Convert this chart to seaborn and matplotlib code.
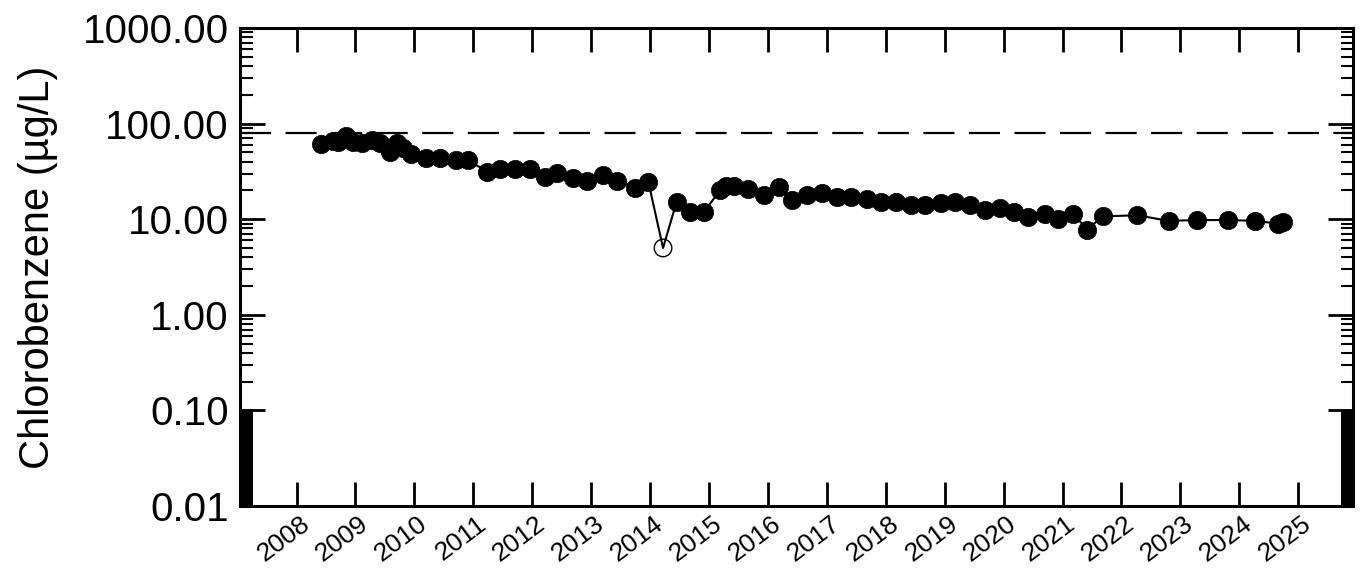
import numpy as np
import pandas as pd
import matplotlib
matplotlib.use("Agg")
import matplotlib.pyplot as plt
import seaborn as sns
from matplotlib.ticker import FixedLocator, FormatStrFormatter, NullFormatter
from matplotlib.transforms import ScaledTranslation

# ---- data ----
sample_year = [2008.41, 2008.62, 2008.70, 2008.84, 2008.96, 2009.11, 2009.28, 2009.42,
               2009.58, 2009.70, 2009.80, 2009.95, 2010.20, 2010.44, 2010.71, 2010.91,
               2011.23, 2011.45, 2011.71, 2011.96, 2012.22, 2012.42, 2012.70, 2012.93,
               2013.20, 2013.44, 2013.75, 2013.97, 2014.22, 2014.45, 2014.67, 2014.92,
               2015.19, 2015.29, 2015.42, 2015.67, 2015.94, 2016.18, 2016.41, 2016.66,
               2016.92, 2017.17, 2017.41, 2017.69, 2017.92, 2018.18, 2018.42, 2018.67,
               2018.93, 2019.18, 2019.43, 2019.69, 2019.94, 2020.17, 2020.42, 2020.71,
               2020.93, 2021.18, 2021.42, 2021.68, 2022.27, 2022.80, 2023.28, 2023.81,
               2024.27, 2024.66, 2024.74]
chlorobenzene = [60.7, 65.8, 64.0, 74.6, 64.0, 62.0, 67.0, 63.0,
                 51.0, 62.0, 55.0, 48.0, 43.4, 44.0, 41.6, 41.6,
                 31.4, 33.2, 33.2, 33.2, 27.8, 30.2, 26.8, 25.3,
                 29.0, 25.3, 21.0, 24.7, 5.0, 15.2, 12.0, 12.0,
                 20.2, 22.2, 22.2, 20.6, 17.9, 21.6, 16.0, 17.9,
                 18.7, 17.2, 17.2, 16.4, 15.0, 15.2, 14.1, 14.2,
                 14.8, 15.2, 14.1, 12.5, 13.0, 12.0, 10.6, 11.3,
                 10.0, 11.4, 7.8, 10.7, 11.0, 9.6, 9.8, 9.8,
                 9.6, 9.0, 9.3]
detected = [True] * len(sample_year)
detected[28] = False  # non-detect plotted as open circle (2014)

year_ticks = list(range(2008, 2026))
y_ticks = [0.01, 0.1, 1, 10, 100, 1000]
standard_value = 80.0
y_label = "Chlorobenzene (µg/L)"

df = pd.DataFrame({"year": sample_year, "value": chlorobenzene, "detected": detected})

# ---- style ----
sns.set_style("ticks")
plt.rcParams["font.family"] = ["Liberation Sans", "DejaVu Sans"]
for k in ["text.color", "axes.labelcolor", "xtick.color", "ytick.color", "axes.edgecolor"]:
    plt.rcParams[k] = "black"

fig = plt.figure(figsize=(13.64, 5.82), dpi=100)
W, H = 1364, 582
ax = fig.add_axes([240 / W, 1 - 506 / H, (1353 - 240) / W, (506 - 28) / H])

ax.set_yscale("log")

sns.lineplot(data=df, x="year", y="value", color="black", linewidth=1.5,
             estimator=None, sort=False, ax=ax, zorder=2)
sns.scatterplot(data=df[df["detected"]], x="year", y="value", color="black",
                s=175, edgecolor="black", linewidth=0.5, ax=ax, zorder=3)
sns.scatterplot(data=df[~df["detected"]], x="year", y="value", color="black",
                facecolor="none", edgecolor="black", s=160, linewidth=1.0,
                ax=ax, zorder=3)

ax.axhline(standard_value, color="black", linewidth=1.6, dashes=(14, 6.5), zorder=1)

ax.set_xlim(2007.04, 2025.93)
ax.set_ylim(0.01, 1000)

# y ticks
ax.yaxis.set_major_locator(FixedLocator(y_ticks))
ax.yaxis.set_major_formatter(FormatStrFormatter("%.2f"))
minor = []
for dec in [0.1, 1, 10, 100]:
    minor += [m * dec for m in range(2, 10)]
minor += list(np.arange(0.0103, 0.1, 0.0003))
ax.yaxis.set_minor_locator(FixedLocator(minor))
ax.yaxis.set_minor_formatter(NullFormatter())

ax.tick_params(axis="y", which="major", direction="in", length=18, width=2,
               left=True, right=True, labelsize=29, pad=8, colors="black")
ax.tick_params(axis="y", which="minor", direction="in", length=9, width=1.5,
               left=True, right=True, colors="black")

# x ticks
ax.xaxis.set_major_locator(FixedLocator(year_ticks))
ax.set_xticklabels([str(y) for y in year_ticks])
ax.xaxis.set_minor_locator(FixedLocator([]))
ax.tick_params(axis="x", which="major", direction="in", length=17, width=2,
               top=True, bottom=True, labelsize=19, pad=4, colors="black")
offset = ScaledTranslation(3 / 100, 0, fig.dpi_scale_trans)
for lab in ax.get_xticklabels():
    lab.set_rotation(37)
    lab.set_ha("right")
    lab.set_va("top")
    lab.set_rotation_mode("anchor")
    lab.set_transform(lab.get_transform() + offset)

ax.set_xlabel("")
ax.set_ylabel(y_label, fontsize=30, labelpad=18, color="black")

for sp in ax.spines.values():
    sp.set_visible(True)
    sp.set_linewidth(2.2)
    sp.set_color("black")

fig.savefig("out.png", dpi=100)
